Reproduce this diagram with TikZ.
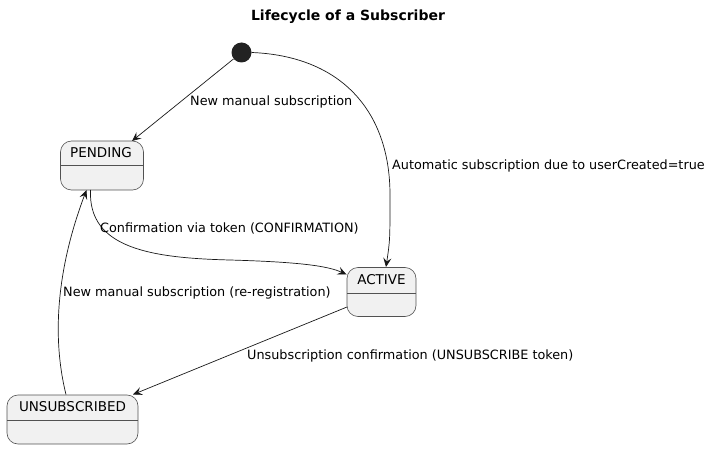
\documentclass[tikz,border=0pt]{standalone}
\usepackage{fontspec}
\setmainfont{DejaVu Sans}
\usetikzlibrary{arrows.meta}
\definecolor{stfill}{HTML}{F1F1F1}
\definecolor{stline}{HTML}{181818}
\definecolor{dotc}{HTML}{222222}
\begin{document}
\begin{tikzpicture}[x=1pt,y=-1pt,
  statebox/.style={draw=stline!75, fill=stfill, line width=0.6pt, rounded corners=11pt, minimum width=#1, minimum height=49pt, inner sep=0pt},
  sname/.style={font=\fontsize{13.5}{15}\selectfont, text=black},
  elabel/.style={font=\fontsize{12.8}{14}\selectfont, text=black, anchor=west, inner sep=0pt},
  edge/.style={draw=stline, line width=0.7pt, -{Stealth[length=9pt,width=8pt,inset=3.5pt]}}]
\useasboundingbox (0,0) rectangle (709,449);
\node[font=\bfseries\fontsize{14}{16}\selectfont] (title) at (348,17) {Lifecycle of a Subscriber};
\node[circle, fill=dotc, minimum size=20pt, inner sep=0pt] (init) at (241.5,52.5) {};
% states
\node[statebox=83pt] (pending) at (102,165.5) {};
\draw[draw=stline!75, line width=0.6pt] (60.5,165.5) -- (143.5,165.5);
\node[sname] (pendingt) at (101,153) {PENDING};
\node[statebox=69pt] (active) at (381.5,292) {};
\draw[draw=stline!75, line width=0.6pt] (347,293) -- (416,293);
\node[sname] (activet) at (381.5,279.5) {ACTIVE};
\node[statebox=131pt] (unsub) at (72.5,419.5) {};
\draw[draw=stline!75, line width=0.6pt] (7,420) -- (138,420);
\node[sname] (unsubt) at (72.5,407) {UNSUBSCRIBED};
% coordinates on borders
\coordinate (pendtop) at (132,141);
\coordinate (pendout) at (90.5,190);
\coordinate (pendin) at (86.5,190);
\coordinate (acttop) at (386,267);
\coordinate (actleft) at (346.5,274.5);
\coordinate (actlow) at (347,307);
\coordinate (unsubtop) at (66,394.5);
\coordinate (unsubright) at (133,394.5);
% edges
\draw[edge] (init) -- (pendtop);
\node[elabel] (l1) at (190,101.5) {New manual subscription};
\draw[edge] (init.east) .. controls (340,56) and (390,110) .. (390,195) .. controls (390,240) .. (acttop);
\node[elabel] (l2) at (392,165.5) {Automatic subscription due to userCreated=true};
\draw[edge] (pendout) .. controls (88,248) and (150,258) .. (230,260) .. controls (300,262) and (328,266) .. (actleft);
\node[elabel] (l3) at (100,228.5) {Confirmation via token (CONFIRMATION)};
\draw[edge] (unsubtop) .. controls (50,330) and (60,260) .. (pendin);
\node[elabel] (l4) at (63,292.5) {New manual subscription (re-registration)};
\draw[edge] (actlow) -- (unsubright);
\node[elabel] (l5) at (247,355.5) {Unsubscription confirmation (UNSUBSCRIBE token)};
\end{tikzpicture}
\end{document}
